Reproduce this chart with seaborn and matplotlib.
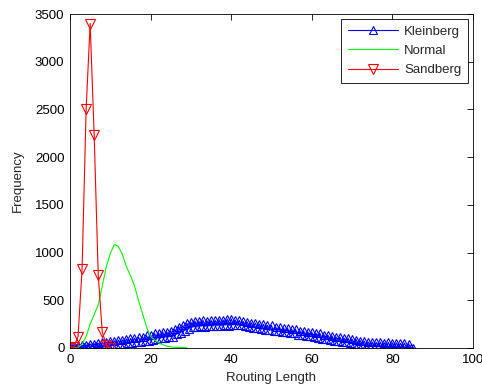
import numpy as np
import pandas as pd
import seaborn as sns
import matplotlib
matplotlib.use("Agg")
import matplotlib.pyplot as plt

# routing length histograms
sandberg_x = [0, 1, 2, 3, 4, 5, 6, 7, 8, 9, 10]
sandberg_y = [0, 10, 120, 830, 2500, 3400, 2230, 770, 170, 30, 5]

normal_x = list(range(1, 30))
normal_y = [0, 5, 40, 120, 250, 350, 450, 650, 850, 990, 1085, 1065, 980, 850, 760,
            650, 500, 360, 220, 120, 85, 55, 35, 20, 12, 8, 6, 5, 4]

# kleinberg sampled every half step, values zig-zag between two bands
kleinberg_y = [
    10, 0, 15, 3, 22, 4, 30, 6, 33, 9, 42, 10, 46, 16, 50, 17, 60, 22, 63, 27,
    72, 30, 75, 35, 84, 37, 86, 45, 96, 48, 100, 57, 104, 58, 114, 62, 120, 72, 132, 76,
    138, 87, 152, 92, 158, 101, 170, 106, 172, 115, 182, 118, 198, 142, 224, 158, 236, 182, 262, 198,
    272, 217, 282, 218, 281, 226, 290, 224, 286, 230, 292, 228, 291, 233, 298, 232, 294, 238, 304, 235,
    306, 242, 293, 236, 290, 238, 278, 226, 274, 222, 264, 213, 262, 208, 252, 196, 249, 192, 238, 184,
    236, 178, 224, 176, 221, 166, 210, 163, 208, 153, 198, 152, 194, 140, 182, 136, 178, 124, 170, 122,
    166, 113, 157, 109, 155, 97, 141, 93, 135, 81, 127, 77, 117, 70, 114, 61, 104, 58, 102, 49,
    93, 46, 89, 37, 77, 35, 73, 23, 63, 21, 62, 14, 58, 14, 62, 10, 56, 9, 59, 5,
    55, 6, 54, 3, 50, 4, 52, 2, 47, 1, 0,
]
kleinberg_x = np.arange(len(kleinberg_y)) * 0.5

sns.set_style("white")
plt.rcParams['font.family'] = ['Liberation Sans', 'DejaVu Sans']
plt.rcParams['font.size'] = 9.5

fig = plt.figure(figsize=(4.82, 3.90), dpi=100)
ax = fig.add_axes([70 / 482, 42 / 390, 403 / 482, 334 / 390])

sns.lineplot(x=kleinberg_x, y=kleinberg_y, ax=ax, color='b', lw=0.8, sort=False, estimator=None,
             marker='^', markersize=6, markerfacecolor='none', markeredgecolor='b',
             markeredgewidth=0.8, label='Kleinberg')
sns.lineplot(x=normal_x, y=normal_y, ax=ax, color=(0, 1, 0), lw=0.8, sort=False, estimator=None,
             label='Normal')
sns.lineplot(x=sandberg_x, y=sandberg_y, ax=ax, color='r', lw=0.8, sort=False, estimator=None,
             marker='v', markersize=7, markerfacecolor='none', markeredgecolor='r',
             markeredgewidth=0.8, label='Sandberg')

ax.set_xlim(0, 100)
ax.set_ylim(0, 3500)
ax.set_xticks(range(0, 101, 20))
ax.set_yticks(range(0, 3501, 500))
ax.set_xlabel("Routing Length", labelpad=5)
ax.set_ylabel("Frequency", labelpad=8)
ax.tick_params(direction='in', length=4, width=0.6, top=True, right=True,
               labelsize=9.5, colors='black', pad=4)
for s in ax.spines.values():
    s.set_color('black')
    s.set_linewidth(0.6)

leg = ax.legend(loc='upper right', bbox_to_anchor=(0.988, 0.986), numpoints=1,
                handlelength=3.8, handletextpad=0.5, borderpad=0.5, labelspacing=0.55,
                borderaxespad=0, fancybox=False, framealpha=1, fontsize=9.5)
leg.get_frame().set_edgecolor('black')
leg.get_frame().set_linewidth(0.6)

fig.savefig("out.png", dpi=100)
